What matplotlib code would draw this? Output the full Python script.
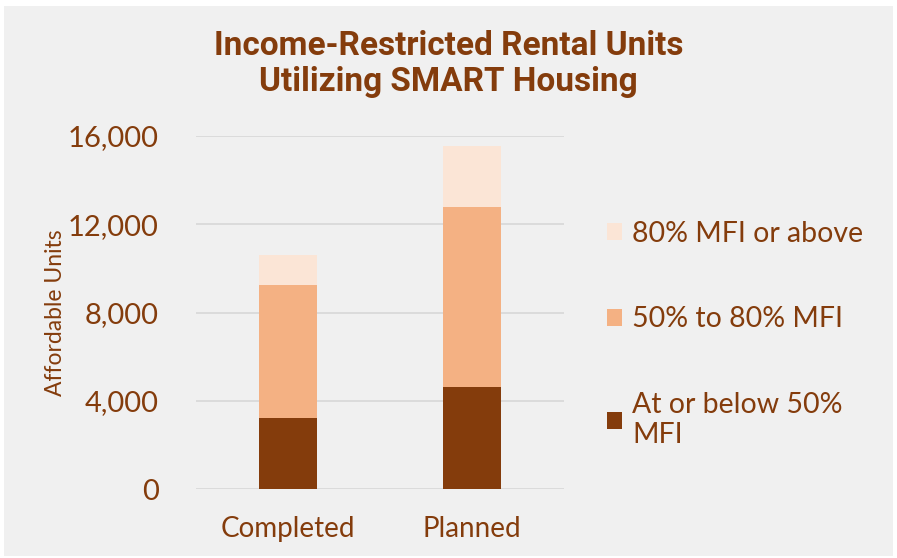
import matplotlib
matplotlib.use("Agg")
import matplotlib.pyplot as plt
from matplotlib.patches import Patch, Rectangle

categories = ["Completed", "Planned"]
below50 = [3240, 4650]
mid50_80 = [6030, 8140]
above80 = [1340, 2760]
series_labels = ["At or below 50%\nMFI", "50% to 80% MFI", "80% MFI or above"]
yticks = [0, 4000, 8000, 12000, 16000]
ytick_labels = ["0", "4,000", "8,000", "12,000", "16,000"]

brown = "#843C0C"
colors = ["#843C0C", "#F4B183", "#FBE5D6"]
bg = "#F0F0F0"
body_font = ["Lato", "DejaVu Sans"]
title_font = ["Roboto", "DejaVu Sans"]

fig = plt.figure(figsize=(8.97, 5.58), dpi=100, facecolor="white")
fig.patches.append(Rectangle((0.004, 0.004), 0.992, 0.985, transform=fig.transFigure,
                             facecolor=bg, edgecolor="none", zorder=-10))
ax = fig.add_axes([196/897, 1-489.3/558, (564-196)/897, (489.3-136)/558])
ax.set_facecolor(bg)
ax.patch.set_alpha(0)

x = range(len(categories))
w = 0.315
ax.bar(x, below50, w, color=colors[0], zorder=3)
ax.bar(x, mid50_80, w, bottom=below50, color=colors[1], zorder=3)
bot3 = [a + b for a, b in zip(below50, mid50_80)]
ax.bar(x, above80, w, bottom=bot3, color=colors[2], zorder=3)

ax.set_xlim(-0.5, 1.5)
ax.set_ylim(0, 16000)
ax.set_yticks(yticks)
ax.set_yticklabels(ytick_labels, fontsize=21, color=brown, family=body_font)
ax.set_xticks(list(x))
ax.set_xticklabels(categories, fontsize=20, color=brown, family=body_font)
ax.tick_params(length=0)
ax.tick_params(axis="y", pad=27)
ax.tick_params(axis="x", pad=19)
for s in ax.spines.values():
    s.set_visible(False)
ax.yaxis.grid(True, color="#D9D9D9", linewidth=1.3, zorder=0)
ax.set_axisbelow(True)
ax.set_ylabel("Affordable Units", fontsize=16.5, color=brown, family=body_font, labelpad=1)

fig.text(0.5, 0.918, "Income-Restricted Rental Units", ha="center", va="center",
         fontsize=24, fontweight="bold", color=brown, family=title_font)
fig.text(0.5, 0.853, "Utilizing SMART Housing", ha="center", va="center",
         fontsize=24, fontweight="bold", color=brown, family=title_font)

handles = [Patch(facecolor=colors[2]), Patch(facecolor=colors[1]), Patch(facecolor=colors[0])]
labels = [series_labels[2], series_labels[1], series_labels[0]]
leg = fig.legend(handles, labels, loc="upper left", bbox_to_anchor=(581/897, 1-195/558),
                 frameon=False, prop={"family": body_font, "size": 20.5},
                 handlelength=0.55, handleheight=0.55, handletextpad=0.35,
                 labelspacing=2.1)
for t in leg.get_texts():
    t.set_color(brown)

fig.savefig("out.png", dpi=100, facecolor=fig.get_facecolor())
